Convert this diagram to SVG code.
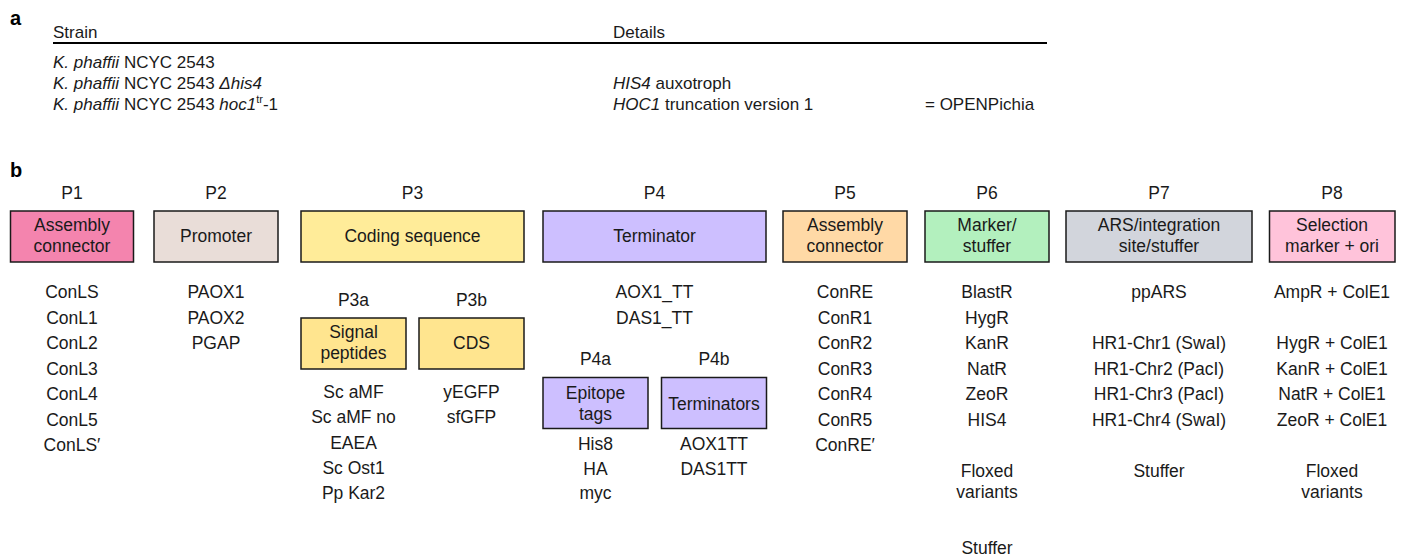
<svg xmlns="http://www.w3.org/2000/svg" width="1403" height="560" viewBox="0 0 1403 560">
<style>
text{font-family:"Liberation Sans",Arial,sans-serif;fill:#1a1a1a}
.pl{font-weight:bold;font-size:20px;fill:#000}
.ta{font-size:17px}
.t{font-size:17.5px;text-anchor:middle}
.i{font-style:italic}
.box{stroke:#1a1a1a;stroke-width:1.5}
</style>
<rect width="1403" height="560" fill="#fff"/>
<g id="panel-a">
<text class="pl" x="10" y="25">a</text>
<text class="ta" x="53" y="38">Strain</text>
<text class="ta" x="613" y="38">Details</text>
<line x1="53" y1="43" x2="1047" y2="43" stroke="#000" stroke-width="2"/>
<text class="ta" x="53" y="68"><tspan class="i">K. phaffii</tspan> NCYC 2543</text>
<text class="ta" x="53" y="89"><tspan class="i">K. phaffii</tspan> NCYC 2543 <tspan class="i">Δhis4</tspan></text>
<text class="ta" x="613" y="89"><tspan class="i">HIS4</tspan> auxotroph</text>
<text class="ta" x="53" y="110"><tspan class="i">K. phaffii</tspan> NCYC 2543 <tspan class="i">hoc1</tspan><tspan font-size="11" dy="-7">tr</tspan><tspan dy="7">-1</tspan></text>
<text class="ta" x="613" y="110"><tspan class="i">HOC1</tspan> truncation version 1</text>
<text class="ta" x="925" y="110">= OPENPichia</text>
</g>
<text class="pl" x="10" y="177">b</text>
<g id="P1">
<text class="t" x="72" y="199">P1</text>
<rect class="box" x="10.5" y="211" width="123" height="51" fill="#F484AE"/>
<text class="t" x="72" y="231">Assembly</text>
<text class="t" x="72" y="252">connector</text>
<text class="t" x="72" y="298">ConLS</text>
<text class="t" x="72" y="323.5">ConL1</text>
<text class="t" x="72" y="349">ConL2</text>
<text class="t" x="72" y="374.5">ConL3</text>
<text class="t" x="72" y="400">ConL4</text>
<text class="t" x="72" y="425.5">ConL5</text>
<text class="t" x="72" y="451">ConLS′</text>
</g>
<g id="P2">
<text class="t" x="216" y="199">P2</text>
<rect class="box" x="154" y="211" width="124" height="51" fill="#E9DDD8"/>
<text class="t" x="216" y="242">Promoter</text>
<text class="t" x="216" y="298">PAOX1</text>
<text class="t" x="216" y="323.5">PAOX2</text>
<text class="t" x="216" y="349">PGAP</text>
</g>
<g id="P3">
<text class="t" x="412.5" y="199">P3</text>
<rect class="box" x="301" y="211" width="223" height="51" fill="#FFEC99"/>
<text class="t" x="412.5" y="242">Coding sequence</text>
</g>
<g id="P3a">
<text class="t" x="353.5" y="306">P3a</text>
<rect class="box" x="301" y="318" width="105" height="51" fill="#FFE58F"/>
<text class="t" x="353.5" y="338">Signal</text>
<text class="t" x="353.5" y="359">peptides</text>
<text class="t" x="353.5" y="398">Sc aMF</text>
<text class="t" x="353.5" y="423">Sc aMF no</text>
<text class="t" x="353.5" y="448.5">EAEA</text>
<text class="t" x="353.5" y="474">Sc Ost1</text>
<text class="t" x="353.5" y="499">Pp Kar2</text>
</g>
<g id="P3b">
<text class="t" x="471.5" y="306">P3b</text>
<rect class="box" x="419" y="318" width="105" height="51" fill="#FFE58F"/>
<text class="t" x="471.5" y="349">CDS</text>
<text class="t" x="471.5" y="398">yEGFP</text>
<text class="t" x="471.5" y="423">sfGFP</text>
</g>
<g id="P4">
<text class="t" x="654.5" y="199">P4</text>
<rect class="box" x="543" y="211" width="223" height="51" fill="#CDBFFF"/>
<text class="t" x="654.5" y="242">Terminator</text>
<text class="t" x="654.5" y="298">AOX1_TT</text>
<text class="t" x="654.5" y="323.5">DAS1_TT</text>
</g>
<g id="P4a">
<text class="t" x="595.5" y="365">P4a</text>
<rect class="box" x="543" y="377.5" width="105" height="51" fill="#CDBFFF"/>
<text class="t" x="595.5" y="398.5">Epitope</text>
<text class="t" x="595.5" y="419.5">tags</text>
<text class="t" x="595.5" y="449.5">His8</text>
<text class="t" x="595.5" y="474.5">HA</text>
<text class="t" x="595.5" y="499">myc</text>
</g>
<g id="P4b">
<text class="t" x="714" y="365">P4b</text>
<rect class="box" x="661.5" y="377.5" width="105" height="51" fill="#CDBFFF"/>
<text class="t" x="714" y="409.5">Terminators</text>
<text class="t" x="714" y="449.5">AOX1TT</text>
<text class="t" x="714" y="474.5">DAS1TT</text>
</g>
<g id="P5">
<text class="t" x="845" y="199">P5</text>
<rect class="box" x="783" y="211" width="124" height="51" fill="#FFD9A6"/>
<text class="t" x="845" y="231">Assembly</text>
<text class="t" x="845" y="252">connector</text>
<text class="t" x="845" y="298">ConRE</text>
<text class="t" x="845" y="323.5">ConR1</text>
<text class="t" x="845" y="349">ConR2</text>
<text class="t" x="845" y="374.5">ConR3</text>
<text class="t" x="845" y="400">ConR4</text>
<text class="t" x="845" y="425.5">ConR5</text>
<text class="t" x="845" y="451">ConRE′</text>
</g>
<g id="P6">
<text class="t" x="987" y="199">P6</text>
<rect class="box" x="925" y="211" width="124" height="51" fill="#B3F0BE"/>
<text class="t" x="987" y="231">Marker/</text>
<text class="t" x="987" y="252">stuffer</text>
<text class="t" x="987" y="298">BlastR</text>
<text class="t" x="987" y="323.5">HygR</text>
<text class="t" x="987" y="349">KanR</text>
<text class="t" x="987" y="374.5">NatR</text>
<text class="t" x="987" y="400">ZeoR</text>
<text class="t" x="987" y="425.5">HIS4</text>
<text class="t" x="987" y="477">Floxed</text>
<text class="t" x="987" y="498">variants</text>
<text class="t" x="987" y="553.5">Stuffer</text>
</g>
<g id="P7">
<text class="t" x="1159" y="199">P7</text>
<rect class="box" x="1066" y="211" width="186" height="51" fill="#D2D5DC"/>
<text class="t" x="1159" y="231">ARS/integration</text>
<text class="t" x="1159" y="252">site/stuffer</text>
<text class="t" x="1159" y="298">ppARS</text>
<text class="t" x="1159" y="349">HR1-Chr1 (SwaI)</text>
<text class="t" x="1159" y="374.5">HR1-Chr2 (PacI)</text>
<text class="t" x="1159" y="400">HR1-Chr3 (PacI)</text>
<text class="t" x="1159" y="425.5">HR1-Chr4 (SwaI)</text>
<text class="t" x="1159" y="477">Stuffer</text>
</g>
<g id="P8">
<text class="t" x="1332" y="199">P8</text>
<rect class="box" x="1269.5" y="211" width="125.5" height="51" fill="#FFC3DA"/>
<text class="t" x="1332" y="231">Selection</text>
<text class="t" x="1332" y="252">marker + ori</text>
<text class="t" x="1332" y="298">AmpR + ColE1</text>
<text class="t" x="1332" y="349">HygR + ColE1</text>
<text class="t" x="1332" y="374.5">KanR + ColE1</text>
<text class="t" x="1332" y="400">NatR + ColE1</text>
<text class="t" x="1332" y="425.5">ZeoR + ColE1</text>
<text class="t" x="1332" y="477">Floxed</text>
<text class="t" x="1332" y="498">variants</text>
</g>
</svg>
